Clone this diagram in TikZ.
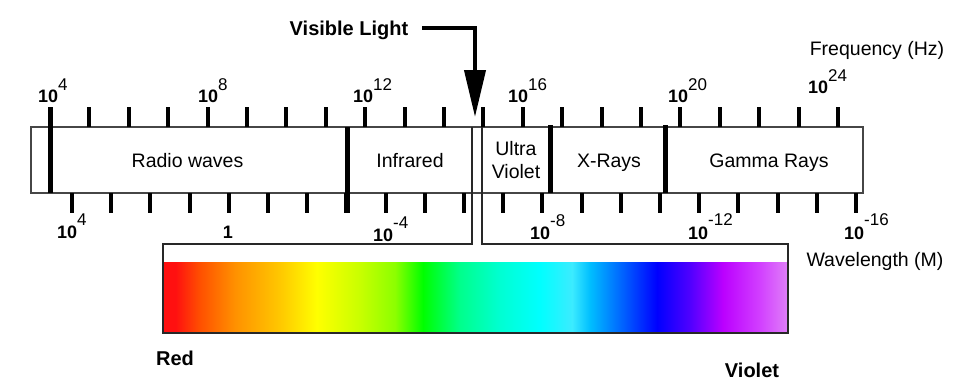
\documentclass[tikz,border=0pt]{standalone}
\usepackage{fontspec}
\setmainfont{Liberation Sans}
\usetikzlibrary{arrows.meta}
\definecolor{barline}{RGB}{70,70,70}
\definecolor{boxline}{RGB}{40,40,40}
\definecolor{sa}{RGB}{255,16,16}
\definecolor{sb}{RGB}{255,80,0}
\definecolor{sc}{RGB}{255,145,0}
\definecolor{sd}{RGB}{255,200,0}
\definecolor{se}{RGB}{255,255,0}
\definecolor{sf}{RGB}{200,255,0}
\definecolor{sg}{RGB}{140,255,0}
\definecolor{sh}{RGB}{0,255,0}
\definecolor{si}{RGB}{0,255,140}
\definecolor{sj}{RGB}{0,255,210}
\definecolor{sk}{RGB}{0,255,255}
\definecolor{sl}{RGB}{60,235,255}
\definecolor{sm}{RGB}{0,190,255}
\definecolor{sn}{RGB}{0,0,255}
\definecolor{so}{RGB}{80,0,255}
\definecolor{sp}{RGB}{187,0,255}
\definecolor{sq}{RGB}{210,64,255}
\definecolor{sr}{RGB}{224,128,248}
\pgfdeclarehorizontalshading{visspec}{100bp}{color(0bp)=(sa); color(25bp)=(sa);
  color(26bp)=(sa); color(27.96bp)=(sb); color(30.76bp)=(sc); color(34.36bp)=(sd);
  color(37.32bp)=(se); color(40.76bp)=(sf); color(43.56bp)=(sg); color(45.8bp)=(sh);
  color(48.76bp)=(si); color(51.96bp)=(sj); color(55.16bp)=(sk); color(57.72bp)=(sl);
  color(59.16bp)=(sm); color(64.52bp)=(sn); color(67.16bp)=(so); color(69.8bp)=(sp);
  color(72.76bp)=(sq); color(75bp)=(sr); color(100bp)=(sr)}
\newcommand\tpw[2]{{\fontsize{18}{20}\selectfont\bfseries 10}\raisebox{#1pt}{\fontsize{17}{20}\selectfont #2}}
\begin{document}
\begin{tikzpicture}[x=1pt,y=-1pt,
  band/.style={font=\fontsize{19.5}{22}\selectfont, inner sep=0pt, anchor=base},
  plain/.style={font=\fontsize{19.5}{22}\selectfont, inner sep=0pt, anchor=base},
  bold/.style={font=\bfseries\fontsize{20}{22}\selectfont, inner sep=0pt, anchor=base},
  num/.style={inner sep=0pt, anchor=base west},
  tickmark/.style={line width=4pt},
  bound/.style={line width=5pt},
  barstyle/.style={draw=barline, line width=1.5pt},
  funnel/.style={draw=boxline, line width=1.8pt}]
\useasboundingbox (0,0) rectangle (961,381);
% main bar
\coordinate (barNW) at (31,127);
\coordinate (barSE) at (863,193);
\draw[barstyle, fill=white] (barNW) rectangle (barSE);
% ticks
\foreach \k in {0,...,20} \draw[tickmark] ({50+39.4*\k},107) -- ({50+39.4*\k},127);
\foreach \k in {0,...,20} \draw[tickmark] ({72+39.2*\k},193) -- ({72+39.2*\k},213);
% band boundaries
\draw[bound] (50,107) -- (50,193);
\draw[bound] (347,127) -- (347,213);
\draw[bound] (550,125) -- (550,193);
\draw[bound] (665,125) -- (665,193);
% spectrum
\shade[shading=visspec] (163,262) rectangle (788,333);
\draw[funnel] (472,127) -- (472,244) -- (163,244) -- (163,333) -- (788,333) -- (788,244) -- (482,244) -- (482,127);
% band labels
\node[band] (radio) at (187.5,167) {Radio waves};
\node[band] (ir) at (410,167) {Infrared};
\node[band] (uv1) at (516,155) {Ultra};
\node[band] (uv2) at (516,178) {Violet};
\node[band] (xray) at (609,167) {X-Rays};
\node[band] (gamma) at (769,167) {Gamma Rays};
% axis titles
\node[plain] (freq) at (877,55) {Frequency (Hz)};
\node[plain] (wave) at (875,266) {Wavelength (M)};
\node[bold] (red) at (175,365) {Red};
\node[bold] (violet) at (752,377) {Violet};
% visible light arrow
\node[bold] (vis) at (349,35) {Visible Light};
\coordinate (vtip) at (475,117);
\draw[line width=4pt, -{Triangle[length=47pt,width=21pt]}] ([xshift=14pt,yshift=7pt]vis.base east) -| (vtip);
% frequency labels
\node[num] (f4) at (38,102) {\tpw{12}{4}};
\node[num] (f8) at (198,102) {\tpw{12}{8}};
\node[num] (f12) at (353,102) {\tpw{12}{12}};
\node[num] (f16) at (508,102) {\tpw{12}{16}};
\node[num] (f20) at (668,102) {\tpw{12}{20}};
\node[num] (f24) at (808,93) {\tpw{12}{24}};
% wavelength labels
\node[num] (w4) at (57,238) {\tpw{13}{4}};
\node[inner sep=0pt, anchor=base] (w0) at (228,238) {\fontsize{18}{20}\selectfont\bfseries 1};
\node[num] (wm4) at (373,241) {\tpw{13}{-4}};
\node[num] (wm8) at (530,239) {\tpw{13}{-8}};
\node[num] (wm12) at (688,239) {\tpw{14}{-12}};
\node[num] (wm16) at (844,239) {\tpw{14}{-16}};
\end{tikzpicture}
\end{document}
